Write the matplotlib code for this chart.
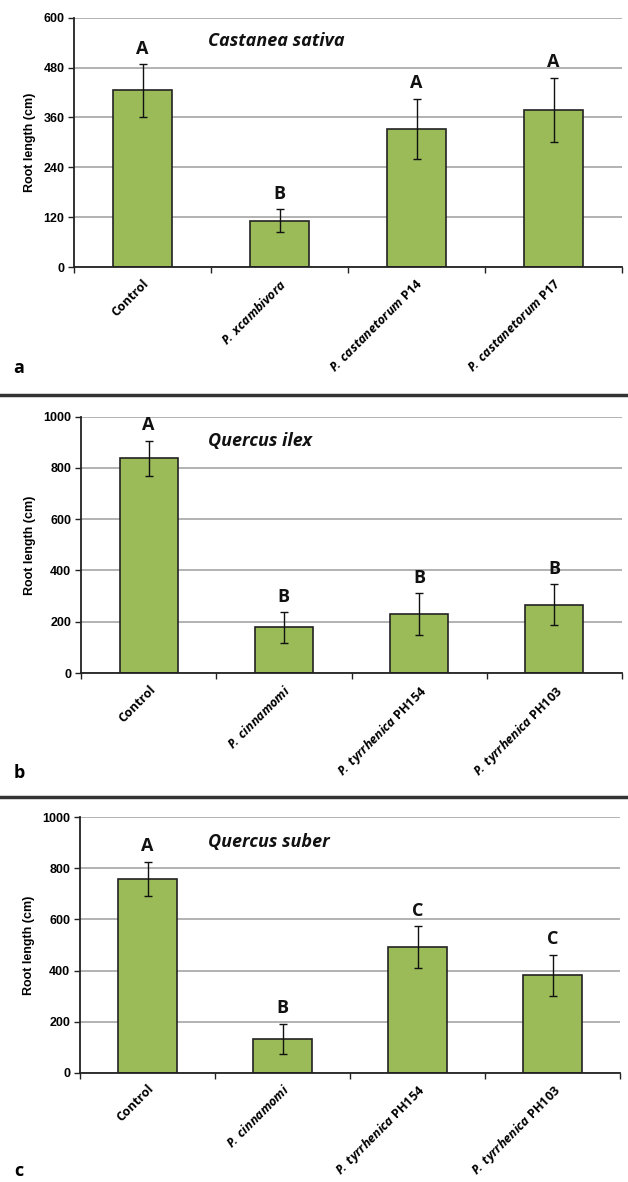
import matplotlib
matplotlib.use('Agg')
import matplotlib.pyplot as plt
import numpy as np

plt.rcParams['mathtext.fontset'] = 'custom'
plt.rcParams['mathtext.it'] = 'Open Sans:italic:bold'
plt.rcParams['mathtext.rm'] = 'Open Sans:bold'

# data
cats_a = ['Control', r'$\mathit{P\!.\ xcambivora}$',
          r'$\mathit{P\!.\ castanetorum}$ P14', r'$\mathit{P\!.\ castanetorum}$ P17']
vals_a = [425, 112, 333, 379]
err_a = [63, 27, 72, 77]
lett_a = ['A', 'B', 'A', 'A']

cats_b = ['Control', r'$\mathit{P\!.\ cinnamomi}$',
          r'$\mathit{P\!.\ tyrrhenica}$ PH154', r'$\mathit{P\!.\ tyrrhenica}$ PH103']
vals_b = [838, 178, 230, 266]
err_b = [69, 59, 83, 80]
lett_b = ['A', 'B', 'B', 'B']

cats_c = cats_b
vals_c = [758, 133, 491, 382]
err_c = [68, 59, 83, 80]
lett_c = ['A', 'B', 'C', 'C']

W, H = 628, 1182
fig = plt.figure(figsize=(W/100, H/100), dpi=100)

def px_axes(l, t, r, b):
    return fig.add_axes([l/W, 1-b/H, (r-l)/W, (b-t)/H])

def panel(ax, cats, vals, errs, letters, ymax, step, title, tx):
    x = np.arange(len(cats))
    ax.set_axisbelow(True)
    ax.yaxis.grid(True, color='#a6a6a6', lw=1.2)
    ax.bar(x, vals, width=0.43, color='#9bbb59', edgecolor='#222222', lw=1.2, zorder=2)
    ax.errorbar(x, vals, yerr=errs, fmt='none', ecolor='#111111', elinewidth=1,
                capsize=3, capthick=1, zorder=3)
    for xi, v, e, l in zip(x, vals, errs, letters):
        ax.annotate(l, (xi, v + e), xytext=(0, 11), textcoords='offset points',
                    ha='center', va='center', fontsize=13, fontweight='bold',
                    family='Open Sans', color='#111111')
    ax.set_xlim(-0.5, len(cats) - 0.5)
    ax.set_ylim(0, ymax)
    ax.set_yticks(np.arange(0, ymax + 1, step))
    ax.set_yticklabels([str(int(v)) for v in np.arange(0, ymax + 1, step)],
                       fontsize=9, fontweight='bold', family='Liberation Sans')
    ax.set_xticks(x)
    ax.set_xticklabels(cats, rotation=45, ha='right', rotation_mode='anchor',
                       fontsize=9, fontweight='bold', family='Open Sans')
    ax.tick_params(axis='x', length=0, pad=7)
    ax.set_xticks(np.arange(-0.5, len(cats)), minor=True)
    ax.tick_params(axis='x', which='minor', length=4, width=1, color='#222222')
    ax.tick_params(axis='y', length=4, width=1, color='#222222', pad=3)
    for s in ['top', 'right']:
        ax.spines[s].set_visible(False)
    for s in ['left', 'bottom']:
        ax.spines[s].set_color('#222222')
        ax.spines[s].set_linewidth(1.3)
    ax.set_ylabel('Root length (cm)', fontsize=9, fontweight='bold',
                  family='Liberation Sans', labelpad=5)
    ax.text(tx, 0.905, title, transform=ax.transAxes, ha='center', va='center',
            fontsize=13, style='italic', fontweight='bold', family='Open Sans',
            color='#111111')

ax_a = px_axes(74, 17.6, 622, 267.3)
panel(ax_a, cats_a, vals_a, err_a, lett_a, 600, 120, 'Castanea sativa', 0.37)
ax_b = px_axes(81, 416.7, 622, 673)
panel(ax_b, cats_b, vals_b, err_b, lett_b, 1000, 200, 'Quercus ilex', 0.33)
ax_c = px_axes(80, 817.3, 620, 1072.7)
panel(ax_c, cats_c, vals_c, err_c, lett_c, 1000, 200, 'Quercus suber', 0.35)

# separators and panel letters
for y in [395, 797]:
    fig.add_artist(plt.Line2D([0, 1], [1 - y/H, 1 - y/H], color='#333333', lw=2.5))
for lab, y in [('a', 368), ('b', 773), ('c', 1171)]:
    fig.text(19/W, 1 - y/H, lab, ha='center', va='center', fontsize=13,
             fontweight='bold', family='Open Sans')

fig.savefig('out.png', dpi=100)
